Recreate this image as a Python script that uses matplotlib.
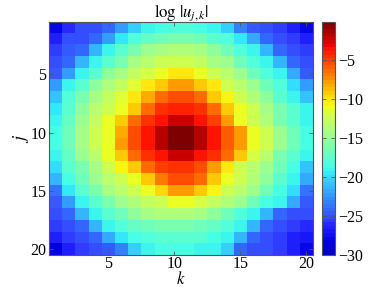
import matplotlib
matplotlib.use("Agg")
import matplotlib.pyplot as plt
from matplotlib.colors import ListedColormap
import numpy as np

plt.rcParams['font.family'] = ['Liberation Serif', 'DejaVu Serif']
plt.rcParams['mathtext.fontset'] = 'stix'

# log|u_{j,k}|, rows j = 1..20 (top to bottom), columns k = 1..20
log_u = [
    [-28, -26, -25, -25, -24, -22.5, -20.5, -19, -18.5, -18, -18, -18.5, -19, -20.5, -23, -24.5, -25, -25.5, -26.5, -28],
    [-26.5, -25, -25, -24, -22.5, -19.5, -18, -17, -16.5, -16, -16, -16.5, -17.5, -18, -19.5, -22, -24, -25, -25.5, -26.5],
    [-25.5, -24.5, -24, -21.5, -19, -17.5, -16, -15, -14.5, -14, -14, -14.5, -15.5, -16.5, -18, -19, -21.5, -24, -25, -25.5],
    [-25, -24, -21.5, -19, -17.5, -16, -14.5, -13.5, -12.5, -12.5, -12.5, -13, -14.5, -15, -16.5, -18, -19, -21.5, -24, -25],
    [-24.5, -22.5, -19, -17.5, -15.5, -14.5, -13, -12, -11, -10, -10, -11, -12.5, -13.5, -15, -16.5, -18, -19, -22, -24.5],
    [-22.5, -19, -17.5, -15.5, -14, -13, -11.5, -10, -9, -8, -8, -9, -10, -12.5, -13.5, -15, -16.5, -18, -20, -22.5],
    [-21, -18, -16, -14.5, -13, -11.5, -10, -8.5, -6.5, -5.5, -5.5, -6.5, -9, -10.5, -12.5, -14, -15.5, -17.5, -19, -21],
    [-19.5, -17.5, -15.5, -13.5, -12.5, -11, -9, -6.5, -4.5, -4, -4, -4.5, -6.5, -9, -11, -12.5, -14.5, -16, -17.5, -19],
    [-19, -17, -15, -13, -11, -9, -6.5, -4.5, -3.5, -2, -2, -3.5, -5, -8, -11, -12.5, -14, -16, -17.5, -19],
    [-18.5, -16.5, -14.5, -12.5, -11, -8.5, -5.5, -3.5, -1.8, -0.2, -0.2, -1.8, -3.5, -6, -8, -11, -12.5, -15, -16.5, -18.5],
    [-18.5, -16.5, -14.5, -12.5, -11, -8, -5.5, -3.5, -1.8, -0.2, -0.2, -1.8, -3.5, -6, -8, -11, -12.5, -15, -16.5, -18.5],
    [-19, -17, -15, -13.5, -11, -9, -6.5, -4.5, -3.5, -2, -2, -3.5, -4.5, -6.5, -9, -12, -13.5, -16, -17.5, -19],
    [-20, -17.5, -16, -14.5, -12.5, -10.5, -9, -6.5, -5, -4.5, -4.5, -5.5, -8, -10, -12.5, -13.5, -15, -16.5, -18.5, -21],
    [-21.5, -18.5, -16.5, -15, -13.5, -12.5, -11, -9, -7, -5.5, -5.5, -6.5, -9, -11, -12.5, -14, -15.5, -17.5, -19, -22],
    [-23.5, -19.5, -17.5, -16, -14.5, -13.5, -12.5, -11, -9.5, -8, -8, -9, -10.5, -12.5, -13.5, -15, -16.5, -18.5, -20, -23.5],
    [-24.5, -22.5, -19, -17.5, -16, -15, -14, -13, -12.5, -11, -11, -12, -13, -14, -15, -16.5, -18.5, -19, -22, -24.5],
    [-25, -24, -21.5, -19, -17.5, -16.5, -15.5, -14.5, -14, -14, -14, -14.5, -15.5, -16.5, -18, -19, -21.5, -24, -25, -25],
    [-25.5, -25, -24, -21.5, -19, -18, -17, -16.5, -16, -16, -16, -16.5, -17, -18, -19, -21.5, -24, -25, -25.5, -26],
    [-26.5, -25.5, -25, -24, -22, -19.5, -18.5, -18, -17.5, -17.5, -17.5, -17.5, -18.5, -19, -21.5, -24, -25, -25.5, -26.5, -27],
    [-28.5, -26.5, -25.5, -25, -24.5, -23, -20.5, -19, -18.5, -18.5, -18.5, -19, -19, -20.5, -24, -25, -25, -25.5, -26.5, -28],
]
axis_ticks = [5, 10, 15, 20]
cbar_ticks = [-5, -10, -15, -20, -25, -30]

data = np.array(log_u)
n = data.shape[0]

# jet, a bit lighter in the blue/cyan/green part like the reference
t = np.linspace(0, 1, 64)
cols = plt.get_cmap('jet')(t)[:, :3]
low = t < 0.11
cols[low, 2] = 0.78 + 0.22 * t[low] / 0.11
w = 0.2 * np.clip((0.72 - t) / 0.17, 0, 1) * np.clip((t - 0.05) / 0.1, 0, 1)
cols = cols + (1 - cols) * w[:, None]
cmap = ListedColormap(cols)

fig = plt.figure(figsize=(3.82, 2.87), dpi=100)
ax = fig.add_axes([0.129, 0.1115, 0.6895, 0.8129])
cax = fig.add_axes([0.842, 0.1115, 0.0348, 0.8129])

im = ax.imshow(data, cmap=cmap, vmin=-30, vmax=-0.1,
               extent=(0.5, n + 0.5, n + 0.5, 0.5), aspect='auto',
               interpolation='nearest')

ax.set_xticks(axis_ticks)
ax.set_yticks(axis_ticks)
ax.tick_params(direction='in', top=True, right=True, length=3, width=0.6,
               color='#555555', labelsize=11.5, pad=2)
ax.tick_params(axis='x', pad=1)
for s in ax.spines.values():
    s.set_color('#555555')
    s.set_linewidth(0.8)
ax.set_xlabel(r'$k$', fontsize=12, labelpad=-1)
ax.set_ylabel(r'$j$', fontsize=13, labelpad=0)
ax.set_title(r'$\log\,|u_{j,k}|$', fontsize=12, pad=4)

cb = fig.colorbar(im, cax=cax, ticks=cbar_ticks)
cb.ax.tick_params(direction='in', left=True, right=True, length=3, width=0.6,
                  color='#555555', labelsize=11.5, pad=2)
cb.outline.set_edgecolor('#555555')
cb.outline.set_linewidth(0.8)
cb.ax.set_yticklabels([f'\u2212{abs(t)}' for t in cbar_ticks])

fig.savefig('out.png', dpi=100)
